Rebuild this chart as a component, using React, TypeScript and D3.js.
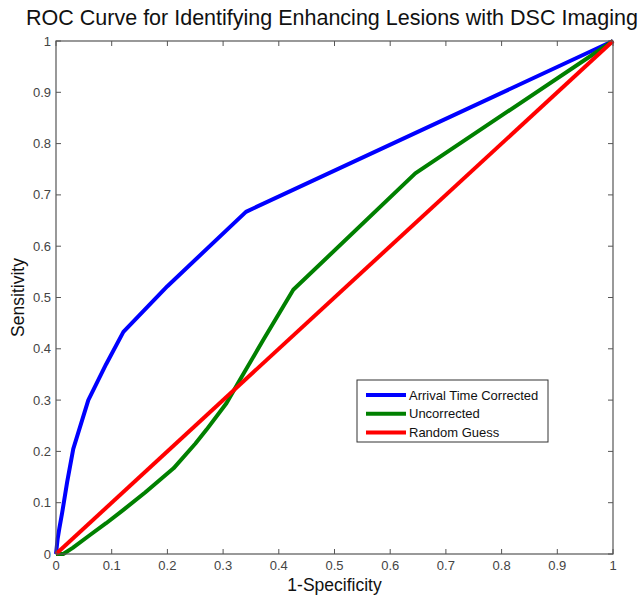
import React from "react";
import * as d3 from "d3";

const W = 643;
const H = 596;

const xTicks = [0, 0.1, 0.2, 0.3, 0.4, 0.5, 0.6, 0.7, 0.8, 0.9, 1];
const yTicks = [0, 0.1, 0.2, 0.3, 0.4, 0.5, 0.6, 0.7, 0.8, 0.9, 1];

const arrivalFpr = [0, 0.003, 0.006, 0.011, 0.02, 0.031, 0.058, 0.09, 0.121, 0.2, 0.341, 1];
const arrivalTpr = [0, 0.03, 0.05, 0.08, 0.14, 0.205, 0.3, 0.37, 0.433, 0.522, 0.667, 1];

const uncorrFpr = [0, 0.013, 0.03, 0.061, 0.09, 0.121, 0.16, 0.211, 0.25, 0.27, 0.306, 0.33, 0.372, 0.426, 0.645, 1];
const uncorrTpr = [0, 0, 0.012, 0.037, 0.06, 0.086, 0.12, 0.167, 0.215, 0.242, 0.294, 0.339, 0.417, 0.515, 0.742, 1];

const randomFpr = [0, 1];
const randomTpr = [0, 1];

const seriesNames = ["Arrival Time Corrected", "Uncorrected", "Random Guess"];
const seriesColors = ["#0000ff", "#008000", "#ff0000"];

const margin = { left: 56, right: W - 613, top: 41, bottom: H - 554 };

export default function App() {
  const x = d3.scaleLinear().domain([0, 1]).range([margin.left, W - margin.right]);
  const y = d3.scaleLinear().domain([0, 1]).range([H - margin.bottom, margin.top]);
  const line = d3
    .line<[number, number]>()
    .x((d) => x(d[0]))
    .y((d) => y(d[1]));

  const series = [
    d3.zip(arrivalFpr, arrivalTpr) as [number, number][],
    d3.zip(uncorrFpr, uncorrTpr) as [number, number][],
    d3.zip(randomFpr, randomTpr) as [number, number][],
  ];

  const font = "'Liberation Sans', Arial, Helvetica, sans-serif";
  const axisColor = "#555";
  const tickLen = 5;
  const x0 = x(0), x1 = x(1), y0 = y(0), y1 = y(1);

  const lgX = 357, lgY = 380, lgW = 191, lgH = 62;

  return (
    <svg width={W} height={H} style={{ position: "absolute", left: 0, top: 0, background: "#fff" }} fontFamily={font}>
      <rect x={0} y={0} width={W} height={H} fill="#fff" />
      <text x={332} y={25} textAnchor="middle" fontSize={21.5} fill="#111">
        ROC Curve for Identifying Enhancing Lesions with DSC Imaging
      </text>
      {/* ticks */}
      {xTicks.map((t, i) => (
        <g key={"xt" + i}>
          <line x1={x(t)} x2={x(t)} y1={y0} y2={y0 - tickLen} stroke={axisColor} strokeWidth={1} />
          <line x1={x(t)} x2={x(t)} y1={y1} y2={y1 + tickLen} stroke={axisColor} strokeWidth={1} />
          <text x={x(t)} y={y0 + 16} textAnchor="middle" fontSize={13} fill="#444">
            {String(t)}
          </text>
        </g>
      ))}
      {yTicks.map((t, i) => (
        <g key={"yt" + i}>
          <line x1={x0} x2={x0 + tickLen} y1={y(t)} y2={y(t)} stroke={axisColor} strokeWidth={1} />
          <line x1={x1} x2={x1 - tickLen} y1={y(t)} y2={y(t)} stroke={axisColor} strokeWidth={1} />
          <text x={x0 - 5} y={y(t) + 4.5} textAnchor="end" fontSize={13} fill="#444">
            {String(t)}
          </text>
        </g>
      ))}
      {series.map((s, i) => (
        <path key={"s" + i} d={line(s) || ""} fill="none" stroke={seriesColors[i]} strokeWidth={4} strokeLinejoin="round" />
      ))}
      <rect x={x0} y={y1} width={x1 - x0} height={y0 - y1} fill="none" stroke={axisColor} strokeWidth={1.2} />
      <text x={(x0 + x1) / 2} y={591} textAnchor="middle" fontSize={17.5} fill="#111">
        1-Specificity
      </text>
      <text transform={`translate(24, ${(y0 + y1) / 2}) rotate(-90)`} textAnchor="middle" fontSize={17.5} fill="#111">
        Sensitivity
      </text>
      {/* legend */}
      <rect x={lgX} y={lgY} width={lgW} height={lgH} fill="#fff" stroke="#333" strokeWidth={1} />
      {seriesNames.map((n, i) => (
        <g key={"lg" + i}>
          <line x1={366} x2={406} y1={395 + i * 18.8} y2={395 + i * 18.8} stroke={seriesColors[i]} strokeWidth={4} />
          <text x={409} y={395 + i * 18.8 + 4.5} fontSize={13} fill="#111">
            {n}
          </text>
        </g>
      ))}
    </svg>
  );
}
